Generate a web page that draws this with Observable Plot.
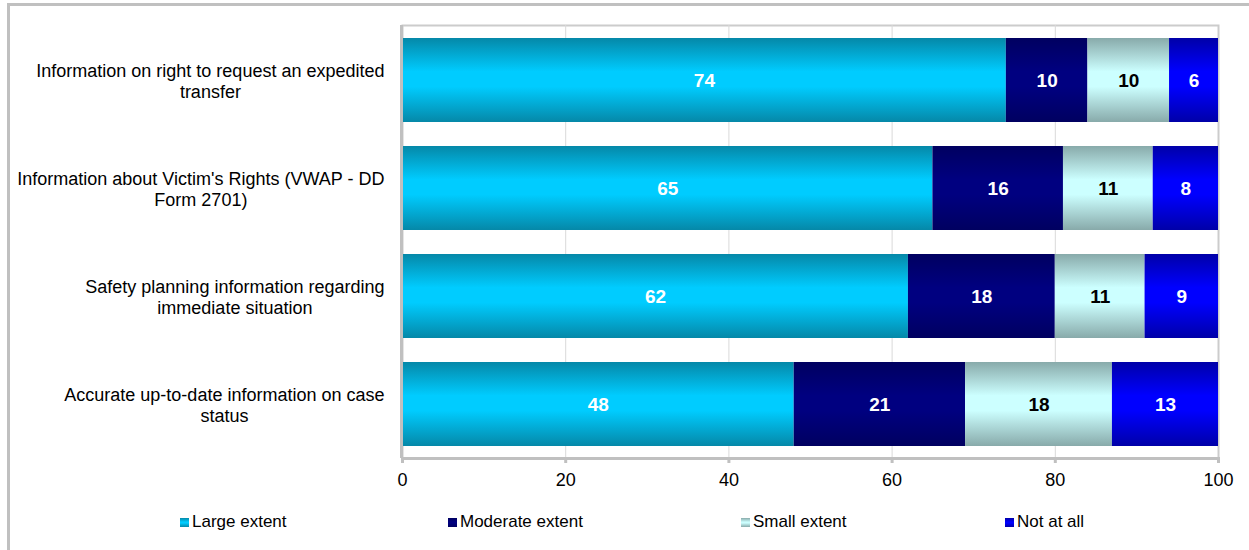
<!DOCTYPE html>
<html>
<head>
<meta charset="utf-8">
<script src="https://cdn.jsdelivr.net/npm/d3@7"></script>
<script src="https://cdn.jsdelivr.net/npm/@observablehq/plot@0.6"></script>
<style>
  body { margin: 0; background: #fff; font-family: Arial, "Liberation Sans", sans-serif; }
  #wrap { position: relative; width: 1249px; height: 550px; overflow: hidden; background: #fff; }
  #frame { position: absolute; left: 7px; top: 3px; width: 1300px; height: 600px;
           border-left: 3px solid #c0c0c0; border-top: 3px solid #c0c0c0; box-sizing: border-box; }
  #chart { position: absolute; left: 0; top: 0; }
  .leg { position: absolute; top: 512px; font-size: 17px; color: #000; display: flex; align-items: center; white-space: nowrap; }
  .sw { width: 9px; height: 9px; margin-right: 3px; display: inline-block; }
</style>
</head>
<body>
<div id="wrap">
  <div id="frame"></div>
  <div id="chart"></div>
  <div id="legend"></div>
</div>
<script>
const categories = [
  "Information on right to request an expedited transfer",
  "Information about Victim's Rights (VWAP - DD Form 2701)",
  "Safety planning information regarding immediate situation",
  "Accurate up-to-date information on case status"
];
const tickLabels = [
  "Information on right to request an expedited\ntransfer",
  "Information about Victim's Rights (VWAP - DD\nForm 2701)",
  "Safety planning information regarding\nimmediate situation",
  "Accurate up-to-date information on case\nstatus"
];
const series = ["Large extent", "Moderate extent", "Small extent", "Not at all"];
const largeExtent = [74, 65, 62, 48];
const moderateExtent = [10, 16, 18, 21];
const smallExtent = [10, 11, 11, 18];
const notAtAll = [6, 8, 9, 13];
const xTicks = [0, 20, 40, 60, 80, 100];

const seriesValues = [largeExtent, moderateExtent, smallExtent, notAtAll];
// gradient colours: [edge, middle]
const gradColors = [["#0588a8", "#00ccff"], ["#000060", "#000080"], ["#88aaaa", "#ccffff"], ["#0000a8", "#0000ff"]];
const gradIds = series.map((s, i) => "grad" + i);

const data = [];
categories.forEach((c, ci) => {
  series.forEach((s, si) => data.push({category: c, series: s, value: seriesValues[si][ci]}));
});
const labelOf = new Map(categories.map((c, i) => [c, tickLabels[i]]));

const plot = Plot.plot({
  width: 1249,
  height: 500,
  marginLeft: 402,
  marginRight: 31,
  marginTop: 25,
  marginBottom: 42,
  style: {fontFamily: 'Arial, "Liberation Sans", sans-serif', background: "transparent", overflow: "visible"},
  x: {domain: [0, 100], ticks: xTicks},
  y: {domain: categories, paddingInner: 0.224, paddingOuter: 0.112, label: null},
  color: {domain: series, range: gradIds.map(id => `url(#${id})`)},
  marks: [
    Plot.frame({stroke: "#cccccc", strokeWidth: 2}),
    Plot.gridX(xTicks.filter(t => t > 0 && t < 100), {stroke: "#d9d9d9", strokeOpacity: 1, strokeWidth: 1}),
    Plot.barX(data, {x: "value", y: "category", fill: "series", inset: 0}),
    Plot.text(data, Plot.stackX({x: "value", y: "category", z: "series",
      text: d => d.series === "Small extent" ? null : String(d.value),
      fill: "white", fontWeight: "bold", fontSize: 19})),
    Plot.text(data, Plot.stackX({x: "value", y: "category", z: "series",
      text: d => d.series === "Small extent" ? String(d.value) : null,
      fill: "black", fontWeight: "bold", fontSize: 19})),
    Plot.ruleX([0], {stroke: "#c0c0c0", strokeWidth: 3, dx: -1}),
    Plot.frame({anchor: "bottom", stroke: "#c0c0c0", strokeWidth: 3}),
    Plot.axisX({ticks: xTicks, tickSize: 5, tickPadding: 10, stroke: "#c0c0c0", strokeWidth: 3, fontSize: 18, fill: "black", label: null}),
    Plot.axisY({tickSize: 0, tickPadding: 18, fontSize: 18, lineHeight: 1.2, fill: "black", tickFormat: d => labelOf.get(d), label: null})
  ]
});

document.getElementById("chart").appendChild(plot);

// gradient definitions
const svg = d3.select(plot);
const defs = svg.insert("defs", ":first-child");
gradColors.forEach(([edge, mid], i) => {
  const g = defs.append("linearGradient").attr("id", gradIds[i]).attr("x1", 0).attr("y1", 0).attr("x2", 0).attr("y2", 1);
  g.append("stop").attr("offset", "0%").attr("stop-color", edge);
  g.append("stop").attr("offset", "40%").attr("stop-color", mid);
  g.append("stop").attr("offset", "58%").attr("stop-color", mid);
  g.append("stop").attr("offset", "100%").attr("stop-color", edge);
});

// center the lines of each y-axis label within its block (right edge fixed)
svg.selectAll('g[aria-label="y-axis tick label"] text').each(function() {
  const tspans = this.querySelectorAll("tspan");
  if (!tspans.length) return;
  let maxW = 0;
  tspans.forEach(t => { maxW = Math.max(maxW, t.getComputedTextLength()); });
  this.setAttribute("text-anchor", "middle");
  tspans.forEach(t => t.setAttribute("x", -maxW / 2));
});

// legend
const legendLeft = [180, 448, 741, 1005];
const legend = document.getElementById("legend");
series.forEach((s, i) => {
  const [edge, mid] = gradColors[i];
  const item = document.createElement("div");
  item.className = "leg";
  item.style.left = legendLeft[i] + "px";
  item.innerHTML = `<span class="sw" style="background:linear-gradient(${edge},${mid} 45%,${mid} 55%,${edge})"></span><span>${s}</span>`;
  legend.appendChild(item);
});
</script>
</body>
</html>
